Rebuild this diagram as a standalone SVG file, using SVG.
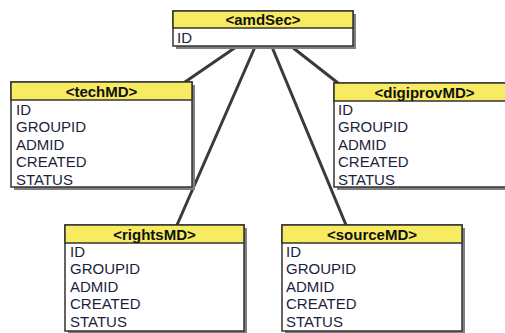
<svg xmlns="http://www.w3.org/2000/svg" width="505" height="333" viewBox="0 0 505 333">
<style>
.sh{fill:#808080}
.box{fill:#ffffff;stroke:#333;stroke-width:1.5}
.hd{fill:#f7eb62;stroke:#333;stroke-width:1.5}
.ht{font-family:"Liberation Sans",Arial,sans-serif;font-size:15px;font-weight:bold;fill:#111;text-anchor:middle}
.rt{font-family:"Liberation Sans",Arial,sans-serif;font-size:15px;fill:#1b1e3c}
.cn{stroke:#3a3a3a;stroke-width:3;fill:none;stroke-linecap:round}
</style>
<rect width="505" height="333" fill="#ffffff"/>
<g id="connectors">
<line class="cn" x1="236" y1="47" x2="185" y2="82"/>
<line class="cn" x1="255" y1="47" x2="177" y2="225"/>
<line class="cn" x1="272" y1="47" x2="346" y2="225"/>
<line class="cn" x1="292" y1="47" x2="338" y2="83"/>
</g>
<g id="amdSec">
<rect class="sh" x="176" y="14" width="180" height="35"/>
<rect class="box" x="173" y="11" width="180" height="35"/>
<rect class="hd" x="173" y="11" width="180" height="17"/>
<text class="ht" x="263" y="24.5">&lt;amdSec&gt;</text>
<text class="rt" x="177" y="42.5">ID</text>
</g>
<g id="techMD">
<rect class="sh" x="14" y="85" width="181" height="105"/>
<rect class="box" x="11" y="82" width="181" height="105"/>
<rect class="hd" x="11" y="82" width="181" height="18"/>
<text class="ht" x="101.5" y="96.5">&lt;techMD&gt;</text>
<text class="rt" x="16" y="114.5">ID</text>
<text class="rt" x="16" y="132">GROUPID</text>
<text class="rt" x="16" y="149.5">ADMID</text>
<text class="rt" x="16" y="167">CREATED</text>
<text class="rt" x="16" y="184.5">STATUS</text>
</g>
<g id="digiprovMD">
<rect class="sh" x="337" y="86" width="181" height="104"/>
<rect class="box" x="334" y="83" width="181" height="104"/>
<rect class="hd" x="334" y="83" width="181" height="18"/>
<text class="ht" x="424.5" y="97.5">&lt;digiprovMD&gt;</text>
<text class="rt" x="338" y="114.5">ID</text>
<text class="rt" x="338" y="132">GROUPID</text>
<text class="rt" x="338" y="149.5">ADMID</text>
<text class="rt" x="338" y="167">CREATED</text>
<text class="rt" x="338" y="184.5">STATUS</text>
</g>
<g id="rightsMD">
<rect class="sh" x="68" y="228" width="179" height="106"/>
<rect class="box" x="65" y="225" width="179" height="106"/>
<rect class="hd" x="65" y="225" width="179" height="18"/>
<text class="ht" x="154.5" y="239.5">&lt;rightsMD&gt;</text>
<text class="rt" x="70" y="256.5">ID</text>
<text class="rt" x="70" y="274">GROUPID</text>
<text class="rt" x="70" y="291.5">ADMID</text>
<text class="rt" x="70" y="309">CREATED</text>
<text class="rt" x="70" y="326.5">STATUS</text>
</g>
<g id="sourceMD">
<rect class="sh" x="285" y="228" width="180" height="106"/>
<rect class="box" x="282" y="225" width="180" height="106"/>
<rect class="hd" x="282" y="225" width="180" height="18"/>
<text class="ht" x="372" y="239.5">&lt;sourceMD&gt;</text>
<text class="rt" x="286" y="256.5">ID</text>
<text class="rt" x="286" y="274">GROUPID</text>
<text class="rt" x="286" y="291.5">ADMID</text>
<text class="rt" x="286" y="309">CREATED</text>
<text class="rt" x="286" y="326.5">STATUS</text>
</g>
</svg>
